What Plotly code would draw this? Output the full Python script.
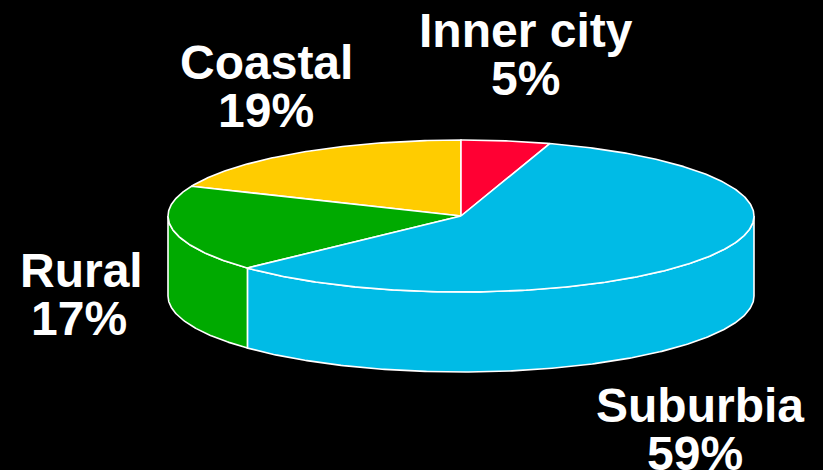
import numpy as np
import plotly.graph_objects as go

categories = ["Inner city", "Suburbia", "Rural", "Coastal"]
percent_labels = ["5%", "59%", "17%", "19%"]
# Slice sizes (percent of the circle)
slice_shares = [4.9, 58.1, 18.4, 18.6]
slice_colors = ["#FF0033", "#00BBE6", "#00AA00", "#FFCC00"]

W, H = 823, 470
CX, CY, RX, RY, DEPTH = 461, 216, 293, 76, 80
LABEL_POS = {
    "Inner city": (526, 30, 525, 78),
    "Suburbia": (700, 405, 695, 453),
    "Rural": (81, 270, 79, 318),
    "Coastal": (266, 62, 266, 110),
}


def rim(a0, a1, dy=0.0):
    t = np.radians(np.linspace(a0, a1, max(int(abs(a1 - a0) * 2), 2)))
    return CX + RX * np.sin(t), CY - RY * np.cos(t) + dy


def poly(x, y, color):
    return go.Scatter(
        x=list(x), y=list(y), mode="lines", fill="toself", fillcolor=color,
        line=dict(color="white", width=1.6), hoverinfo="skip", showlegend=False,
    )


edges = np.concatenate([[0], np.cumsum(slice_shares)]) * 3.6
fig = go.Figure()

# Side walls: only the part of each slice on the near half of the rim
for i, color in enumerate(slice_colors):
    a0, a1 = max(edges[i], 90), min(edges[i + 1], 270)
    if a1 > a0:
        xt, yt = rim(a0, a1)
        xb, yb = rim(a1, a0, DEPTH)
        fig.add_trace(poly(np.r_[xt, xb, xt[0]], np.r_[yt, yb, yt[0]], color))

# Top faces
for i in [3, 0, 2, 1]:
    x, y = rim(edges[i], edges[i + 1])
    fig.add_trace(poly(np.r_[CX, x, CX], np.r_[CY, y, CY], slice_colors[i]))

for name, pct in zip(categories, percent_labels):
    x1, y1, x2, y2 = LABEL_POS[name]
    for text, tx, ty in ((name, x1, y1), (pct, x2, y2)):
        fig.add_annotation(
            x=tx, y=ty, text=text, showarrow=False, xanchor="center", yanchor="middle",
            font=dict(family="Liberation Sans", size=48, color="white", weight="bold"),
        )

fig.update_layout(
    width=W, height=H, margin=dict(l=0, r=0, t=0, b=0),
    paper_bgcolor="black", plot_bgcolor="black",
    xaxis=dict(range=[0, W], visible=False, fixedrange=True),
    yaxis=dict(range=[H, 0], visible=False, fixedrange=True),
)
fig.write_html("out.html", config={"displayModeBar": False},
               post_script="document.body.style.margin='0';document.body.style.background='black';")
